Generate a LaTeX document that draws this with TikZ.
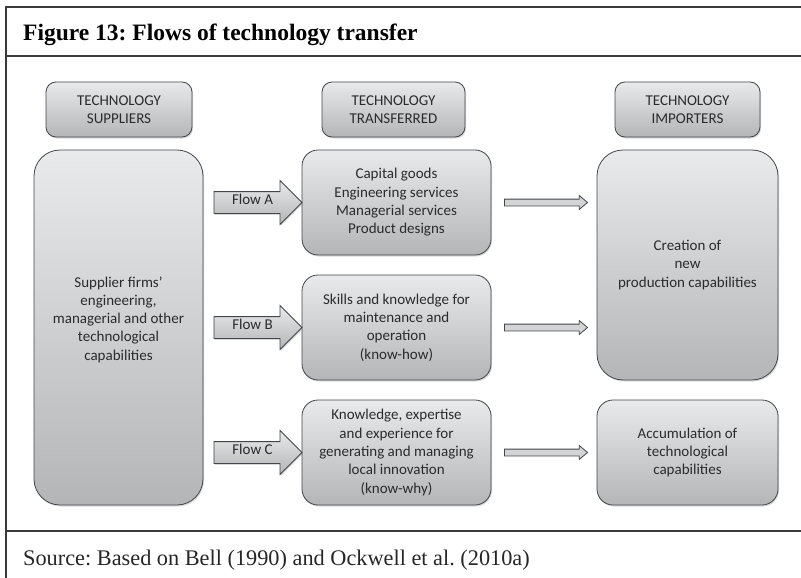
\documentclass[tikz,border=0pt]{standalone}
\usepackage{fontspec}
\setmainfont{Carlito}
\newfontfamily\serifFont{Liberation Serif}
\usepackage{tikz}
\usetikzlibrary{calc,shapes.arrows,shadows}
\frenchspacing
\definecolor{frameLine}{HTML}{3A3A3A}
\definecolor{boxLine}{HTML}{42464A}
\definecolor{boxTop}{HTML}{E9EAEB}
\definecolor{boxBottom}{HTML}{B3B5B7}
\definecolor{boxText}{HTML}{2B2B2B}
\definecolor{thinFill}{HTML}{D2D4D6}
\tikzset{
  frameRule/.style={draw=frameLine, line width=1.4pt},
  titleText/.style={inner sep=0pt, text=black, font=\serifFont\bfseries\fontsize{23.5}{28}\selectfont},
  sourceText/.style={inner sep=0pt, text=black!85, font=\serifFont\fontsize{22.3}{27}\selectfont},
  grayBox/.style={draw=boxLine, line width=0.8pt, top color=boxTop, bottom color=boxBottom,
    text=boxText, align=center, inner sep=0pt, font=\fontsize{15}{18.3}\selectfont,
    drop shadow={shadow xshift=1pt, shadow yshift=-1.5pt, opacity=0.3}},
  headBox/.style={grayBox, rounded corners=10pt, minimum height=55pt},
  mainBox/.style={grayBox, rounded corners=16pt, minimum width=189pt, minimum height=105pt},
  bigBox/.style={grayBox, rounded corners=26pt},
  flowArrow/.style={single arrow, draw=boxLine, line width=0.8pt, top color=boxTop, bottom color=boxBottom,
    text=boxText, font=\fontsize{15}{18}\selectfont, minimum height=88pt,
    single arrow head extend=11pt, text height=7pt, text depth=3pt, inner xsep=0pt, inner ysep=5.5pt,
    drop shadow={shadow xshift=1pt, shadow yshift=-1.5pt, opacity=0.3}},
  thinArrow/.style={single arrow, draw=boxLine, line width=0.8pt, fill=thinFill,
    minimum height=83pt, single arrow head extend=3.5pt, single arrow tip angle=80,
    inner xsep=0pt, inner ysep=3pt}
}

\begin{document}
\begin{tikzpicture}[x=1pt, y=-1pt]
  \useasboundingbox (0,0) rectangle (801,578);
  \draw[frameRule] (801,7) -- (6,7) -- (6,578);
  \draw[frameRule] (6,56) -- (801,56);
  \draw[frameRule] (6,531) -- (801,531);
  \node[titleText, anchor=base west] (title) at (23,41) {Figure 13: Flows of technology transfer};
  \node[sourceText, anchor=base west] (source) at (23,565) {Source: Based on Bell (1990) and Ockwell et al. (2010a)};

  % column headers
  \node[headBox, minimum width=146pt] (hSup) at (119,109.5) {TECHNOLOGY\\SUPPLIERS};
  \node[headBox, minimum width=143pt] (hTrans) at (393.5,109.5) {TECHNOLOGY\\TRANSFERRED};
  \node[headBox, minimum width=145pt] (hImp) at (687.5,109.5) {TECHNOLOGY\\IMPORTERS};

  % boxes
  \node[bigBox, minimum width=169pt, minimum height=355pt] (supBox) at (118.5,327.5)
    {Supplier firms’\\engineering,\\managerial and other\\technological\\capabilities\\\mbox{}};
  \node[mainBox] (boxA) at (396.5,202.5)
    {Capital goods\\Engineering services\\Managerial services\\Product designs};
  \node[mainBox] (boxB) at (396.5,327.5)
    {Skills and knowledge for\\maintenance and\\operation\\(know-how)};
  \node[mainBox] (boxC) at (396.5,452.5)
    {Knowledge, expertise\\and experience for\\generating and managing\\local innovation\\(know-why)};
  \node[bigBox, minimum width=181pt, minimum height=230pt] (impBox) at (687.5,265)
    {Creation of\\new\\production capabilities};
  \node[mainBox, minimum width=181pt] (accBox) at (687.5,452.5)
    {Accumulation of\\technological\\capabilities};

  % flows
  \node[flowArrow] (flowA) at ($(supBox.east |- boxA)!0.5!(boxA.west)$) {Flow A};
  \node[flowArrow] (flowB) at ($(supBox.east |- boxB)!0.5!(boxB.west)$) {Flow B};
  \node[flowArrow] (flowC) at ($(supBox.east |- boxC)!0.5!(boxC.west)$) {Flow C};

  \node[thinArrow] (toImpA) at ($(boxA.east)!0.5!(boxA.east -| impBox.west)$) {};
  \node[thinArrow] (toImpB) at ($(boxB.east)!0.5!(boxB.east -| impBox.west)$) {};
  \node[thinArrow] (toAcc) at ($(boxC.east)!0.5!(accBox.west)$) {};
\end{tikzpicture}
\end{document}
